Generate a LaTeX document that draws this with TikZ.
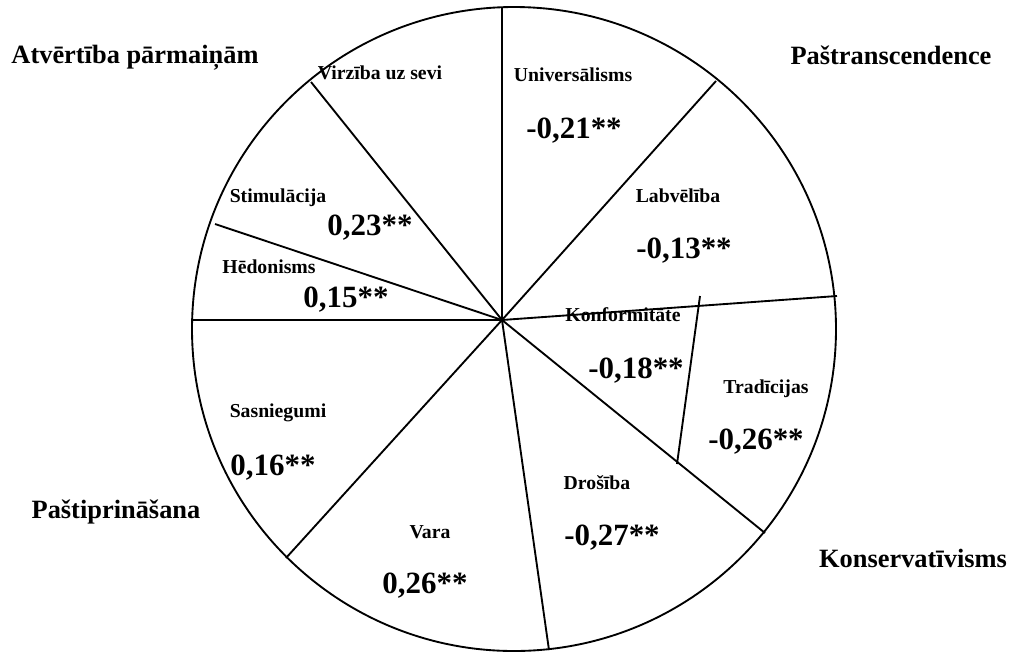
\documentclass[tikz,border=0pt]{standalone}
\usepackage{fontspec}
\setmainfont{Liberation Serif}
\begin{document}
\begin{tikzpicture}[x=0.75pt,y=-0.75pt,
  big/.style={font=\fontsize{19.8}{22}\selectfont\bfseries, anchor=base, inner sep=0pt},
  lbl/.style={font=\fontsize{14.8}{17}\selectfont\bfseries, anchor=base, inner sep=0pt},
  num/.style={font=\fontsize{23.2}{27}\selectfont\bfseries, anchor=base, inner sep=0pt},
  wedge/.style={line width=1.4pt}]
\useasboundingbox (0,0) rectangle (1018,651);
% circle and hub
\coordinate (hub) at (502,320);
\coordinate (cc) at (514,329);
\draw[wedge] (cc) circle[radius=322];
\coordinate (pTop) at (502,8);
\coordinate (pUL) at (311,82);
\coordinate (pUR) at (716,81);
\coordinate (pHed) at (215,224);
\coordinate (pL) at (191,320);
\coordinate (pR) at (837,296);
\coordinate (pLR) at (765,533);
\coordinate (pB) at (549,650);
\coordinate (pLL) at (286,558);
\coordinate (kA) at (700,296);
\coordinate (kB) at (677,464);
\foreach \p in {pTop,pUL,pUR,pHed,pL,pR,pLR,pB,pLL}
  \draw[wedge] (hub) -- (\p);
\draw[wedge] (kA) -- (kB);
% quadrant titles
\node[big] (t1) at (135,63) {Atvērtība pārmaiņām};
\node[big] (t2) at (891,64) {Paštranscendence};
\node[big] (t3) at (116,518) {Paštiprināšana};
\node[big] (t4) at (913,567) {Konservatīvisms};
% value labels
\node[lbl] (l1) at (380,79) {Virzība uz sevi};
\node[lbl] (l2) at (573,81) {Universālisms};
\node[num] (n2) at (574,138) {-0,21**};
\node[lbl] (l3) at (278,202) {Stimulācija};
\node[num] (n3) at (370,235) {0,23**};
\node[lbl] (l4) at (678,202) {Labvēlība};
\node[num] (n4) at (684,258) {-0,13**};
\node[lbl] (l5) at (269,273) {Hēdonisms};
\node[num] (n5) at (346,307) {0,15**};
\node[lbl] (l6) at (623,321) {Konformitāte};
\node[num] (n6) at (636,378) {-0,18**};
\node[lbl] (l7) at (766,393) {Tradīcijas};
\node[num] (n7) at (756,449) {-0,26**};
\node[lbl] (l8) at (278,417) {Sasniegumi};
\node[num] (n8) at (273,475) {0,16**};
\node[lbl] (l9) at (597,489) {Drošība};
\node[num] (n9) at (612,545) {-0,27**};
\node[lbl] (l10) at (430,538) {Vara};
\node[num] (n10) at (425,593) {0,26**};
\end{tikzpicture}
\end{document}
